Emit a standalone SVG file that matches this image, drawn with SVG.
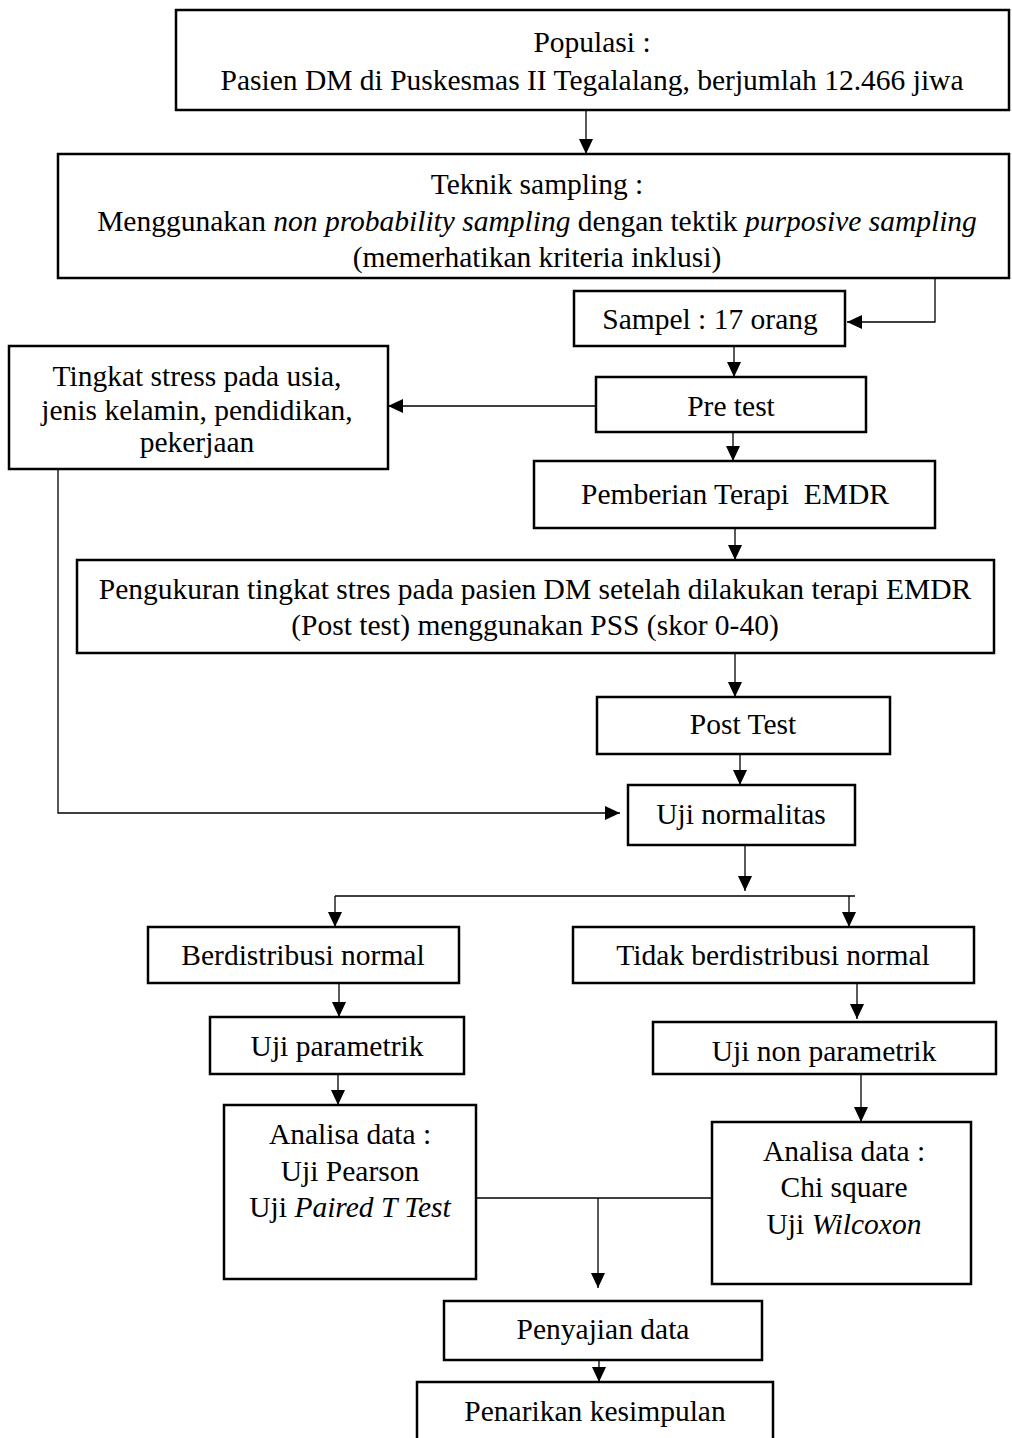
<svg xmlns="http://www.w3.org/2000/svg" width="1012" height="1438" viewBox="0 0 1012 1438">
<style>
.box{fill:#fff;stroke:#000;stroke-width:2.5}
.t{font-family:"Liberation Serif","Times New Roman",serif;font-size:29.5px;fill:#000;text-anchor:middle}
.c{fill:none;stroke:#000;stroke-width:1.3}
.i{font-style:italic}
</style>
<defs>
<marker id="ah" markerUnits="userSpaceOnUse" markerWidth="15" markerHeight="14" refX="15" refY="7" orient="auto">
<path d="M0,0 L15,7 L0,14 z" fill="#000"/>
</marker>
</defs>
<rect width="1012" height="1438" fill="#fff"/>
<g id="connectors">
<path class="c" d="M586,111 V154" marker-end="url(#ah)"/>
<path class="c" d="M935,278 V322 H847" marker-end="url(#ah)"/>
<path class="c" d="M734,346 V377" marker-end="url(#ah)"/>
<path class="c" d="M595,406 H388" marker-end="url(#ah)"/>
<path class="c" d="M733,432 V461" marker-end="url(#ah)"/>
<path class="c" d="M735,528 V560" marker-end="url(#ah)"/>
<path class="c" d="M735,653 V697" marker-end="url(#ah)"/>
<path class="c" d="M740,754 V785" marker-end="url(#ah)"/>
<path class="c" d="M58,469 V813 H620" marker-end="url(#ah)"/>
<path class="c" d="M745,845 V891" marker-end="url(#ah)"/>
<path class="c" d="M335,896 H855"/>
<path class="c" d="M335,896 V927" marker-end="url(#ah)"/>
<path class="c" d="M849,896 V927" marker-end="url(#ah)"/>
<path class="c" d="M339,983 V1017" marker-end="url(#ah)"/>
<path class="c" d="M857,983 V1019" marker-end="url(#ah)"/>
<path class="c" d="M338,1074 V1105" marker-end="url(#ah)"/>
<path class="c" d="M861,1074 V1122" marker-end="url(#ah)"/>
<path class="c" d="M476,1198 H718"/>
<path class="c" d="M598,1198 V1288" marker-end="url(#ah)"/>
<path class="c" d="M599,1360 V1382" marker-end="url(#ah)"/>
</g>
<g id="populasi">
<rect class="box" x="176" y="10" width="833" height="100"/>
<text class="t" x="592" y="52">Populasi :</text>
<text class="t" x="592" y="90">Pasien DM di Puskesmas II Tegalalang, berjumlah 12.466 jiwa</text>
</g>
<g id="teknik">
<rect class="box" x="58" y="154" width="951" height="124"/>
<text class="t" x="537" y="194">Teknik sampling :</text>
<text class="t" x="537" y="231">Menggunakan <tspan class="i">non probability sampling</tspan> dengan tektik <tspan class="i">purposive sampling</tspan></text>
<text class="t" x="537" y="267">(memerhatikan kriteria inklusi)</text>
</g>
<g id="sampel">
<rect class="box" x="574" y="291" width="271" height="55"/>
<text class="t" x="710" y="329">Sampel : 17 orang</text>
</g>
<g id="tingkat">
<rect class="box" x="9" y="346" width="379" height="123"/>
<text class="t" x="197" y="386">Tingkat stress pada usia,</text>
<text class="t" x="197" y="420">jenis kelamin, pendidikan,</text>
<text class="t" x="197" y="452">pekerjaan</text>
</g>
<g id="pretest">
<rect class="box" x="596" y="377" width="270" height="55"/>
<text class="t" x="731" y="416">Pre test</text>
</g>
<g id="emdr">
<rect class="box" x="534" y="461" width="401" height="67"/>
<text class="t" x="735" y="504" style="white-space:pre">Pemberian Terapi  EMDR</text>
</g>
<g id="pengukuran">
<rect class="box" x="77" y="560" width="917" height="93"/>
<text class="t" x="535" y="599">Pengukuran tingkat stres pada pasien DM setelah dilakukan terapi EMDR</text>
<text class="t" x="535" y="635">(Post test) menggunakan PSS (skor 0-40)</text>
</g>
<g id="posttest">
<rect class="box" x="597" y="697" width="293" height="57"/>
<text class="t" x="743" y="734">Post Test</text>
</g>
<g id="normalitas">
<rect class="box" x="628" y="785" width="227" height="60"/>
<text class="t" x="741" y="824">Uji normalitas</text>
</g>
<g id="normal">
<rect class="box" x="148" y="927" width="311" height="56"/>
<text class="t" x="303" y="965">Berdistribusi normal</text>
</g>
<g id="tidaknormal">
<rect class="box" x="573" y="927" width="401" height="56"/>
<text class="t" x="773" y="965">Tidak berdistribusi normal</text>
</g>
<g id="parametrik">
<rect class="box" x="210" y="1017" width="254" height="57"/>
<text class="t" x="337" y="1056">Uji parametrik</text>
</g>
<g id="nonparametrik">
<rect class="box" x="653" y="1022" width="343" height="52"/>
<text class="t" x="824" y="1061">Uji non parametrik</text>
</g>
<g id="analisa1">
<rect class="box" x="224" y="1105" width="252" height="174"/>
<text class="t" x="350" y="1144">Analisa data :</text>
<text class="t" x="350" y="1181">Uji Pearson</text>
<text class="t" x="350" y="1217">Uji <tspan class="i">Paired T Test</tspan></text>
</g>
<g id="analisa2">
<rect class="box" x="712" y="1122" width="259" height="162"/>
<text class="t" x="844" y="1161">Analisa data :</text>
<text class="t" x="844" y="1197">Chi square</text>
<text class="t" x="844" y="1234">Uji <tspan class="i">Wilcoxon</tspan></text>
</g>
<g id="penyajian">
<rect class="box" x="444" y="1301" width="318" height="59"/>
<text class="t" x="603" y="1339">Penyajian data</text>
</g>
<g id="penarikan">
<rect class="box" x="417" y="1382" width="356" height="70"/>
<text class="t" x="595" y="1421">Penarikan kesimpulan</text>
</g>
</svg>
